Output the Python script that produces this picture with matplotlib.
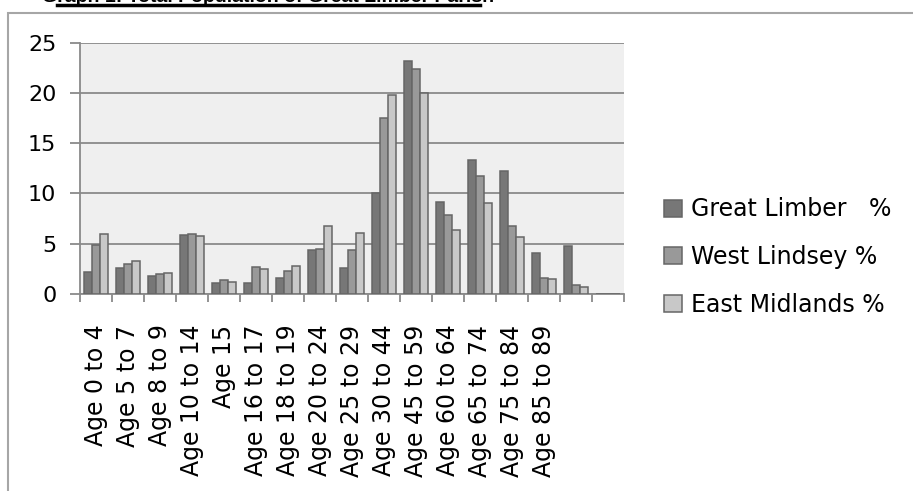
import numpy as np
import matplotlib
matplotlib.use("Agg")
import matplotlib.pyplot as plt
from matplotlib.lines import Line2D
from matplotlib.patches import Rectangle

# データ
categories = ["Age 0 to 4", "Age 5 to 7", "Age 8 to 9", "Age 10 to 14", "Age 15",
              "Age 16 to 17", "Age 18 to 19", "Age 20 to 24", "Age 25 to 29",
              "Age 30 to 44", "Age 45 to 59", "Age 60 to 64", "Age 65 to 74",
              "Age 75 to 84", "Age 85 to 89", "", ""]
great_limber = [2.2, 2.6, 1.8, 5.9, 1.1, 1.1, 1.6, 4.4, 2.6, 10.0, 23.2, 9.2, 13.3, 12.2, 4.1, 4.8, 0]
west_lindsey = [4.9, 3.0, 2.0, 6.0, 1.4, 2.7, 2.3, 4.5, 4.4, 17.5, 22.4, 7.9, 11.7, 6.8, 1.6, 0.9, 0]
east_midlands = [6.0, 3.3, 2.1, 5.8, 1.2, 2.5, 2.8, 6.8, 6.1, 19.8, 20.0, 6.4, 9.1, 5.7, 1.5, 0.7, 0]
series_names = ["Great Limber   %", "West Lindsey %", "East Midlands %"]

W, H = 913, 491
fig = plt.figure(figsize=(W / 100, H / 100), dpi=100)
fig.patch.set_facecolor("w")
plt.rcParams['font.family'] = ['DejaVu Sans']

# 外枠
fig.add_artist(Rectangle((8 / W, -0.1), 1.2, 1 - 13 / H + 0.1, transform=fig.transFigure,
                         fill=False, edgecolor="#a6a6a6", lw=1.5))

# タイトル（元画像でも上が切れている）
title = "Graph 1: Total Population of Great Limber Parish"
fig.text(268 / W, 1 - 2.5 / H, title, ha="center", va="baseline", fontsize=14,
         fontweight="bold", family="Liberation Sans")
fig.add_artist(Line2D([57 / W, 480 / W], [1 - 5 / H, 1 - 5 / H], transform=fig.transFigure,
                      color="black", lw=2.5))

ax = fig.add_axes([80 / W, 1 - 294 / H, (624 - 80) / W, (294 - 42.7) / H])
ax.set_facecolor("#efefef")

x = np.arange(len(categories))
bw = 0.25
colors = ["#777777", "#999999", "#c8c8c8"]
for k, (vals, name) in enumerate(zip([great_limber, west_lindsey, east_midlands], series_names)):
    ax.bar(x + (k - 1) * bw, vals, bw, color=colors[k], edgecolor="#666666", lw=1.1,
           label=name, zorder=3)

ax.set_xlim(-0.5, len(categories) - 0.5)
ax.set_ylim(0, 25)
ax.set_yticks([0, 5, 10, 15, 20, 25])
ax.yaxis.grid(True, color="#8a8a8a", lw=1.3, zorder=1)
ax.set_axisbelow(True)

ax.set_xticks(x)
ax.set_xticklabels(categories, rotation=90, va="top", ha="center")
ax.set_xticks(np.arange(len(categories) + 1) - 0.5, minor=True)
ax.tick_params(axis="x", which="major", length=0, pad=22, labelsize=17)
ax.tick_params(axis="x", which="minor", length=6, width=1.3, color="#8a8a8a", direction="out")
ax.tick_params(axis="y", length=7, width=1.3, color="#8a8a8a", labelsize=16, pad=10)

for s in ["top", "right"]:
    ax.spines[s].set_visible(False)
for s in ["left", "bottom"]:
    ax.spines[s].set_color("#8a8a8a")
    ax.spines[s].set_linewidth(1.3)

fig.legend(loc="center left", bbox_to_anchor=(664 / W, 1 - 257 / H), frameon=False,
           fontsize=17, handlelength=0.75, handleheight=0.75, handletextpad=0.4,
           labelspacing=1.0, borderpad=0, borderaxespad=0)

plt.savefig("out.png", dpi=100)
plt.close()
